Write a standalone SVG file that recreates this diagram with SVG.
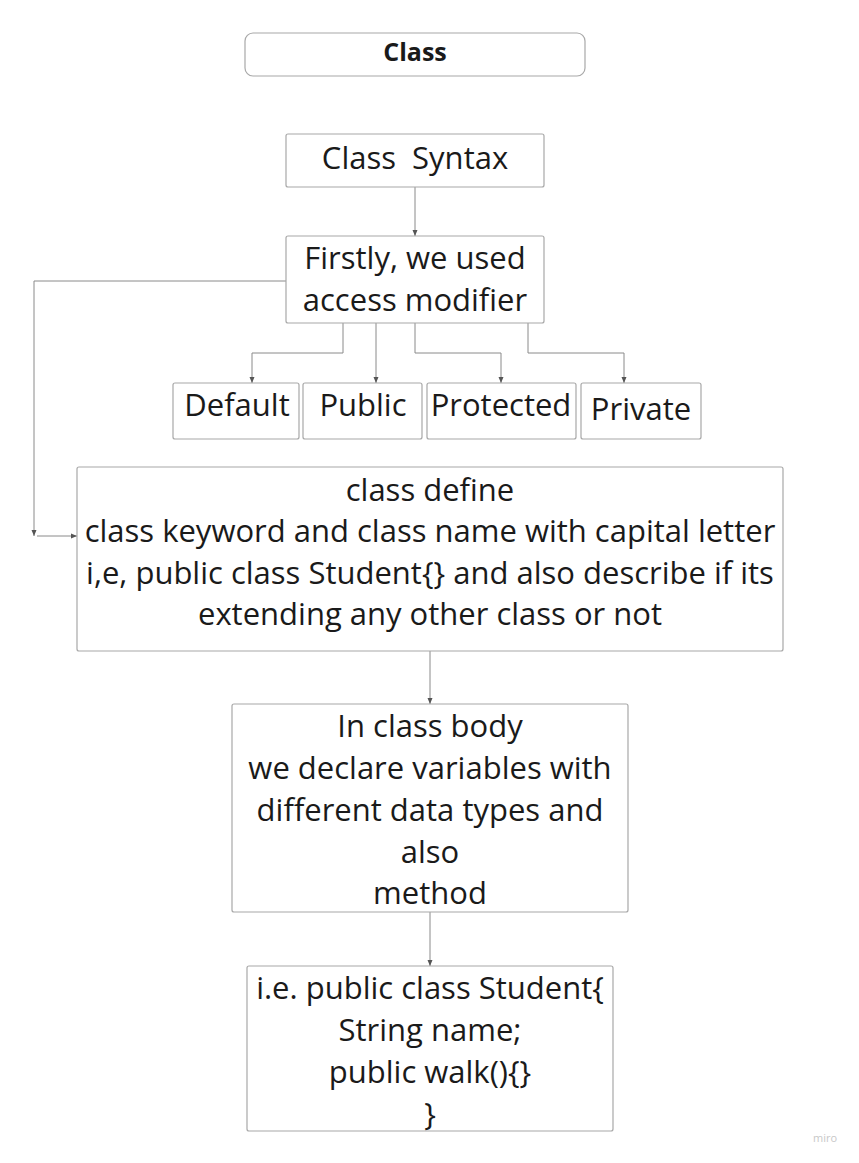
<svg xmlns="http://www.w3.org/2000/svg" width="859" height="1163" viewBox="0 0 859 1163">
<defs>
<marker id="arr" viewBox="0 0 6 6" refX="6" refY="3" markerWidth="6" markerHeight="6" markerUnits="userSpaceOnUse" orient="auto">
<path d="M0,0.5 L6,3 L0,5.5 Z" fill="#555"/>
</marker>
<style>
.box{fill:#fff;stroke:#a8a8a8;stroke-width:1.2}
.t{font-family:"Open Sans","Liberation Sans",sans-serif;font-size:31px;fill:#1a1a1a;text-anchor:middle}
.c{fill:none;stroke:#8a8a8a;stroke-width:1}
</style>
</defs>
<rect width="859" height="1163" fill="#fff"/>
<g id="title">
<rect class="box" x="245" y="33" width="340" height="43" rx="8"/>
<text x="415" y="61" style="font-family:'Open Sans','Liberation Sans',sans-serif;font-size:25px;font-weight:700;fill:#1a1a1a;text-anchor:middle">Class</text>
</g>
<g id="connectors">
<path class="c" d="M415,187 V236" marker-end="url(#arr)"/>
<path class="c" d="M343,323 V353 H252 V383" marker-end="url(#arr)"/>
<path class="c" d="M376,323 V383" marker-end="url(#arr)"/>
<path class="c" d="M415,323 V353 H501 V383" marker-end="url(#arr)"/>
<path class="c" d="M528,323 V353 H624 V383" marker-end="url(#arr)"/>
<path class="c" d="M286,281 H34 V536" marker-end="url(#arr)"/>
<path class="c" d="M37,536 H77" marker-end="url(#arr)"/>
<path class="c" d="M430,651 V704" marker-end="url(#arr)"/>
<path class="c" d="M430,912 V966" marker-end="url(#arr)"/>
</g>
<g id="syntax">
<rect class="box" x="286" y="134" width="258" height="53" rx="2"/>
<text class="t" x="415" y="169" xml:space="preserve">Class  Syntax</text>
</g>
<g id="access">
<rect class="box" x="286" y="236" width="258" height="87" rx="2"/>
<text class="t" x="415" y="269">Firstly, we used</text>
<text class="t" x="415" y="311">access modifier</text>
</g>
<g id="default">
<rect class="box" x="173" y="383" width="126" height="56" rx="2"/>
<text class="t" x="237" y="416">Default</text>
</g>
<g id="public">
<rect class="box" x="303" y="383" width="119" height="56" rx="2"/>
<text class="t" x="363" y="416">Public</text>
</g>
<g id="protected">
<rect class="box" x="427" y="383" width="149" height="56" rx="2"/>
<text class="t" x="501" y="416">Protected</text>
</g>
<g id="private">
<rect class="box" x="581" y="383" width="120" height="56" rx="2"/>
<text class="t" x="641" y="420">Private</text>
</g>
<g id="define">
<rect class="box" x="77" y="467" width="706" height="184" rx="2"/>
<text class="t" x="430" y="501">class define</text>
<text class="t" x="430" y="542">class keyword and class name with capital letter</text>
<text class="t" x="430" y="584">i,e, public class Student{} and also describe if its</text>
<text class="t" x="430" y="625">extending any other class or not</text>
</g>
<g id="body">
<rect class="box" x="232" y="704" width="396" height="208" rx="2"/>
<text class="t" x="430" y="737">In class body</text>
<text class="t" x="430" y="779">we declare variables with</text>
<text class="t" x="430" y="821">different data types and</text>
<text class="t" x="430" y="863">also</text>
<text class="t" x="430" y="904">method</text>
</g>
<g id="example">
<rect class="box" x="247" y="966" width="366" height="165" rx="2"/>
<text class="t" x="430" y="999">i.e. public class Student{</text>
<text class="t" x="430" y="1041">String name;</text>
<text class="t" x="430" y="1083">public walk(){}</text>
<text class="t" x="430" y="1125">}</text>
</g>
<text x="825" y="1142" style="font-family:'Open Sans','Liberation Sans',sans-serif;font-size:11px;fill:#c8c8c8;text-anchor:middle">miro</text>
</svg>
